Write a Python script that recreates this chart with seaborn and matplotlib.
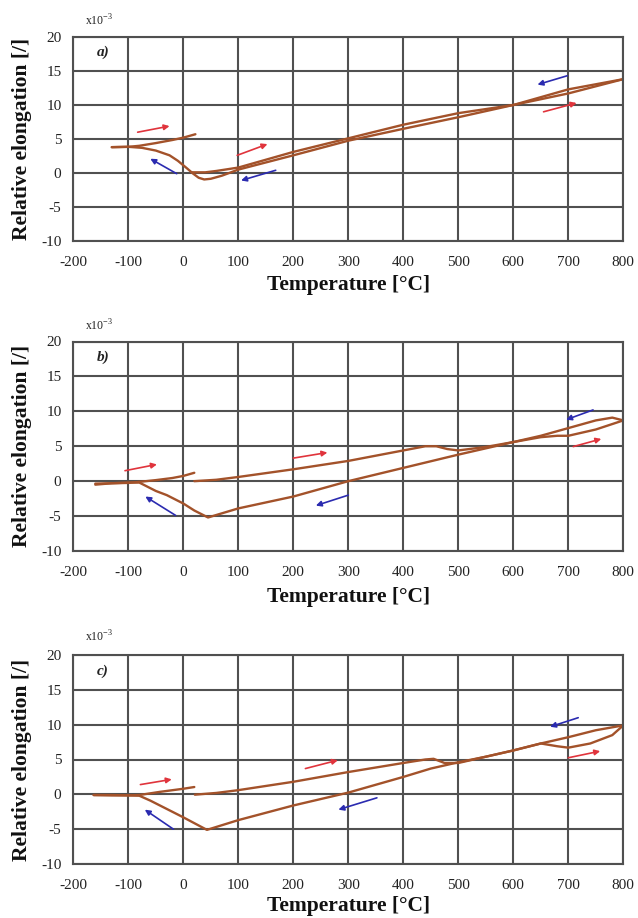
import matplotlib
matplotlib.use("Agg")
import matplotlib.pyplot as plt
import seaborn as sns
import pandas as pd

# ---------------- data (x10^-3 relative elongation) ----------------
# Panel a
a_heat1_T = [15, 40, 60, 100, 150, 200, 300, 400, 500, 600, 700, 800]
a_heat1_E = [0.1, 0.1, 0.3, 0.8, 1.95, 3.1, 5.1, 7.1, 8.8, 10.0, 11.7, 13.8]
a_cool_T = [800, 700, 600, 500, 400, 300, 200, 100, 70, 50, 38, 28, 18, 5, -10, -25, -50, -75, -100, -130]
a_cool_E = [13.8, 12.3, 10.0, 8.2, 6.5, 4.75, 2.6, 0.5, -0.4, -0.85, -0.95, -0.7, -0.1, 0.8, 1.8, 2.6, 3.3, 3.7, 3.85, 3.8]
a_heat2_T = [-130, -100, -80, -50, -20, 0, 22]
a_heat2_E = [3.8, 3.85, 4.0, 4.4, 4.85, 5.2, 5.7]

# Panel b
b_heat1_T = [20, 60, 100, 200, 300, 400, 440, 460, 480, 500, 550, 600, 650, 680, 700, 750, 800]
b_heat1_E = [0.0, 0.2, 0.6, 1.7, 2.9, 4.4, 5.0, 5.0, 4.6, 4.4, 4.9, 5.6, 6.3, 6.5, 6.5, 7.4, 8.7]
b_cool_T = [800, 780, 750, 700, 650, 600, 500, 400, 300, 200, 100, 45, 20, 0, -30, -50, -80, -100, -130, -160]
b_cool_E = [8.7, 9.1, 8.7, 7.6, 6.5, 5.6, 3.8, 1.9, 0.0, -2.2, -3.9, -5.2, -4.2, -3.2, -2.0, -1.4, -0.2, -0.2, -0.3, -0.5]
b_heat2_T = [-160, -130, -100, -80, -50, -20, 0, 20]
b_heat2_E = [-0.35, -0.3, -0.25, -0.1, 0.15, 0.45, 0.75, 1.2]

# Panel c
c_heat1_T = [21, 60, 100, 200, 300, 400, 440, 455, 475, 500, 550, 600, 650, 680, 700, 740, 780, 800]
c_heat1_E = [-0.05, 0.2, 0.6, 1.8, 3.2, 4.5, 5.0, 5.1, 4.5, 4.5, 5.4, 6.3, 7.3, 6.9, 6.7, 7.3, 8.5, 9.9]
c_cool_T = [800, 750, 700, 650, 600, 550, 500, 450, 400, 300, 200, 100, 43, 0, -60, -80, -100, -130, -163]
c_cool_E = [9.9, 9.2, 8.2, 7.3, 6.3, 5.4, 4.6, 3.7, 2.5, 0.25, -1.6, -3.7, -5.1, -3.3, -0.9, -0.2, -0.15, -0.15, -0.1]
c_heat2_T = [-163, -130, -100, -80, -43, 0, 20]
c_heat2_E = [-0.1, -0.1, -0.15, -0.1, 0.35, 0.8, 1.05]

# Direction arrows: (x_start, y_start, x_end, y_end, colour key)
a_arrows = [(-83, 6.0, -25, 6.9, "r"), (-12, -0.1, -60, 2.1, "b"),
            (98, 2.6, 153, 4.25, "r"), (168, 0.4, 105, -1.1, "b"),
            (698, 14.3, 644, 13.0, "b"), (655, 9.0, 715, 10.3, "r")]
b_arrows = [(-106, 1.5, -48, 2.4, "r"), (-14, -4.9, -69, -2.2, "b"),
            (200, 3.3, 262, 4.1, "r"), (300, -2.0, 241, -3.5, "b"),
            (745, 10.2, 696, 8.8, "b"), (709, 4.95, 760, 6.05, "r")]
c_arrows = [(-78, 1.4, -21, 2.15, "r"), (-18, -5.0, -70, -2.2, "b"),
            (222, 3.7, 281, 4.9, "r"), (352, -0.5, 282, -2.2, "b"),
            (718, 11.0, 667, 9.7, "b"), (700, 5.25, 758, 6.2, "r")]

panel_labels = ["a)", "b)", "c)"]
x_ticks = [-200, -100, 0, 100, 200, 300, 400, 500, 600, 700, 800]
y_ticks = [-10, -5, 0, 5, 10, 15, 20]

panels = [
    (a_heat1_T, a_heat1_E, a_cool_T, a_cool_E, a_heat2_T, a_heat2_E, a_arrows),
    (b_heat1_T, b_heat1_E, b_cool_T, b_cool_E, b_heat2_T, b_heat2_E, b_arrows),
    (c_heat1_T, c_heat1_E, c_cool_T, c_cool_E, c_heat2_T, c_heat2_E, c_arrows),
]

# ---------------- style ----------------
sns.set_style("white")
plt.rcParams["font.family"] = ["Liberation Serif", "DejaVu Serif"]
plt.rcParams["axes.unicode_minus"] = False
plt.rcParams["mathtext.fontset"] = "custom"
plt.rcParams["mathtext.rm"] = "Liberation Serif"

GRID = "#505050"
BROWN = "#a3522a"
ARROW = {"r": "#e0343c", "b": "#2b2bb0"}

fig = plt.figure(figsize=(6.38, 9.18), dpi=100)
W, H = 638.0, 918.0
left_px, right_px = 73.3, 623.3
tops = [37, 341.5, 655]
bottoms = [241, 551, 864]
xlab_y = [285, 597, 906]
x10_y = [21, 326, 637]

for i, (h1T, h1E, cT, cE, h2T, h2E, arrows) in enumerate(panels):
    ax = fig.add_axes([left_px / W, 1 - bottoms[i] / H,
                       (right_px - left_px) / W, (bottoms[i] - tops[i]) / H])
    for T, E in [(h1T, h1E), (cT, cE), (h2T, h2E)]:
        df = pd.DataFrame({"T": T, "E": E})
        sns.lineplot(data=df, x="T", y="E", sort=False, estimator=None,
                     color=BROWN, lw=1.7, ax=ax)
    for (x0, y0, x1, y1, c) in arrows:
        ax.annotate("", xy=(x1, y1), xytext=(x0, y0),
                    arrowprops=dict(arrowstyle="-|>", color=ARROW[c], lw=1.2,
                                    mutation_scale=8, shrinkA=0, shrinkB=0))
    ax.set_xlim(-200, 800)
    ax.set_ylim(-10, 20)
    ax.set_xticks(x_ticks)
    ax.set_yticks(y_ticks)
    ax.set_xticklabels([str(t) for t in x_ticks])
    ax.set_yticklabels([str(t) for t in y_ticks])
    ax.grid(True, color=GRID, lw=1.5)
    ax.set_axisbelow(True)
    for s in ax.spines.values():
        s.set_color(GRID)
        s.set_linewidth(1.5)
    ax.tick_params(axis="both", direction="inout", length=7, width=1.2,
                   color=GRID, labelsize=11, labelcolor="#222222")
    ax.tick_params(axis="x", pad=7)
    ax.tick_params(axis="y", pad=5)
    ax.set_xlabel("")
    ax.set_ylabel("")
    ax.text(-157, 17.7, panel_labels[i], fontsize=11, fontweight="bold",
            fontstyle="italic", ha="left", va="center", color="#222222")
    fig.text(0.5 * (left_px + right_px) / W, 1 - xlab_y[i] / H,
             "Temperature [°C]", fontsize=15.5, fontweight="bold",
             ha="center", va="center", color="#111111")
    fig.text(22 / W, 1 - 0.5 * (tops[i] + bottoms[i]) / H,
             "Relative elongation [/]", fontsize=15.5, fontweight="bold",
             rotation=90, ha="center", va="center", color="#111111")
    fig.text(99 / W, 1 - x10_y[i] / H, r"x10$^{\mathrm{-3}}$", fontsize=8.5,
             ha="center", va="center", color="#222222")

fig.savefig("out.png", dpi=100)
